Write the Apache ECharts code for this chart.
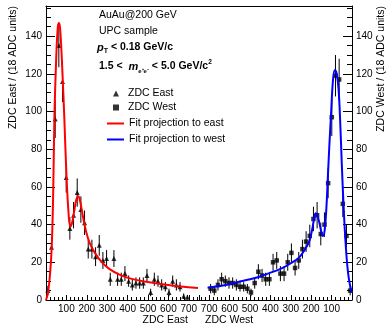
<!DOCTYPE html>
<html>
<head>
<meta charset="utf-8">
<script src="https://cdn.jsdelivr.net/npm/echarts@6/dist/echarts.min.js"></script>
<style>
  html, body { margin: 0; padding: 0; background: #fff; }
  #chart { width: 389px; height: 326px; }
</style>
</head>
<body>
<div id="chart"></div>
<script>
// bin centres, 18 ADC units per bin
const binCentres = [9, 27, 45, 63, 81, 99, 117, 135, 153, 171, 189, 207, 225, 243, 261, 279, 297, 315, 333, 351,
  369, 387, 405, 423, 441, 459, 477, 495, 513, 531, 549, 567, 585, 603, 621, 639, 657, 675, 693];

const eastCounts = [5, 28, 96, 135, 116, 65, 38, 45, 57, 48, 41, 27, 27, 23, 29, 21, 22, 11, 22, 11,
  11, 14, 10, 8, 9, 9, 9, 13, 4, 11, 10, 8, 7, 4, 10, 8, 7, 2, 1.5];
const eastErrors = [2.5, 5.5, 10, 11.5, 11, 8, 6, 7, 7.5, 7, 6.5, 5, 5, 5, 5.5, 4.5, 4.5, 3.5, 4.5, 3.5,
  3.5, 4, 3, 3, 3, 3, 3, 3.5, 2, 3.5, 3, 3, 2.5, 2, 3, 3, 2.5, 1.5, 1.2];

const westCounts = [5, 34, 51, 117, 119, 97, 62, 40, 35, 45, 43, 34, 31, 27, 21, 17, 25, 20, 14, 14,
  21, 20, 11, 11, 13, 15, 9, 4, 6, 7, 7, 8, 9, 9, 10, 11, 8, 5, 6];
const westErrors = [2.5, 6, 7, 11, 11, 10, 8, 6.5, 6, 7, 6.5, 6, 5.5, 5, 4.5, 4, 5, 4.5, 4, 4,
  4.5, 4.5, 3.5, 3.5, 3.5, 4, 3, 2, 2.5, 2.5, 2.5, 3, 3, 3, 3, 3.5, 3, 2.5, 2.5];

// fit projections
const eastFitX = [0, 10, 20, 28, 35, 41, 50, 58, 64, 70, 80, 90, 100, 110, 119, 128, 138, 148, 158, 168, 180, 195,
  215, 240, 270, 310, 360, 420, 500, 580, 660, 745];
const eastFitY = [0, 4, 14, 28, 55, 96, 128, 145, 147, 143, 122, 96, 67, 47, 39, 41, 47, 53, 55, 52, 45, 37,
  30, 25, 20.5, 16.5, 13.5, 11.2, 9.5, 8.2, 7.2, 6.4];

const westFitX = [0, 10, 20, 30, 40, 50, 58, 66, 75, 84, 93, 103, 111, 118, 126, 134, 142, 150, 160, 170, 178, 186,
  196, 210, 230, 260, 300, 350, 400, 450, 500, 560, 620, 708];
const westFitY = [4, 8, 15, 28, 47, 72, 95, 112, 120, 122, 117, 98, 82, 66, 48, 37, 34, 36, 41, 45, 46, 43,
  37, 31, 27, 22.5, 19.5, 16.5, 14.5, 12.5, 11, 9.5, 8, 6.5];

const xTicks = [100, 200, 300, 400, 500, 600, 700];
const yTicks = [0, 20, 40, 60, 80, 100, 120, 140];

const FONT = '"Liberation Sans", Arial, sans-serif';

const chart = echarts.init(document.getElementById('chart'));

const errorBars = (params, api) => {
  const x = api.value(0);
  const y = api.value(1);
  const e = api.value(2);
  const lo = api.coord([x, y - e]);
  const hi = api.coord([x, y + e]);
  return {
    type: 'line',
    shape: { x1: lo[0], y1: lo[1], x2: hi[0], y2: hi[1] },
    style: { stroke: '#000', lineWidth: 1 },
  };
};

const bottomAxis = (gridIndex, inverse) => ({
  type: 'value',
  gridIndex,
  inverse,
  min: 0,
  max: 750,
  interval: 100,
  axisLine: { show: true, onZero: false, lineStyle: { color: '#000', width: 1 } },
  axisTick: { show: true, inside: true, length: 5, lineStyle: { color: '#000' } },
  minorTick: { show: true, splitNumber: 5, length: 3, lineStyle: { color: '#000' } },
  splitLine: { show: false },
  axisLabel: {
    margin: 4,
    color: '#000',
    fontSize: 10,
    fontFamily: FONT,
    formatter: (v) => (xTicks.includes(v) ? String(v) : ''),
  },
});

const topFrame = (gridIndex) => ({
  type: 'value',
  gridIndex,
  position: 'top',
  min: 0,
  max: 750,
  axisLine: { show: true, onZero: false, lineStyle: { color: '#000', width: 1 } },
  axisTick: { show: false },
  axisLabel: { show: false },
  splitLine: { show: false },
});

const sideAxis = (gridIndex, position) => ({
  type: 'value',
  gridIndex,
  position,
  min: 0,
  max: 156,
  interval: 20,
  axisLine: { show: true, onZero: false, lineStyle: { color: '#000', width: 1 } },
  axisTick: { show: true, inside: true, length: 9, lineStyle: { color: '#000' } },
  minorTick: { show: true, splitNumber: 4, length: 5, lineStyle: { color: '#000' } },
  splitLine: { show: false },
  axisLabel: {
    margin: 4,
    color: '#000',
    fontSize: 10,
    fontFamily: FONT,
    formatter: (v) => (yTicks.includes(v) ? String(v) : ''),
  },
});

const option = {
  animation: false,
  backgroundColor: '#fff',
  grid: [
    { left: 46, top: 6, width: 153, height: 294 },
    { left: 199, top: 6, width: 153, height: 294 },
  ],
  xAxis: [bottomAxis(0, false), bottomAxis(1, true), topFrame(0), topFrame(1)],
  yAxis: [sideAxis(0, 'left'), sideAxis(1, 'right')],
  legend: [
    {
      orient: 'vertical',
      left: 108,
      top: 83,
      itemWidth: 6,
      itemHeight: 6,
      itemGap: 3,
      textStyle: { color: '#000', fontSize: 10.5, fontFamily: FONT, padding: [0, 0, 0, 4] },
      data: ['ZDC East', 'ZDC West'],
    },
    {
      orient: 'vertical',
      left: 102,
      top: 113,
      itemWidth: 17,
      itemHeight: 2,
      itemGap: 5,
      textStyle: { color: '#000', fontSize: 10.5, fontFamily: FONT },
      data: [
        { name: 'Fit projection to east', icon: 'rect' },
        { name: 'Fit projection to west', icon: 'rect' },
      ],
    },
  ],
  graphic: [
    { type: 'text', left: 99, top: 10, style: { text: 'AuAu@200 GeV', font: `10.5px ${FONT}`, fill: '#000' } },
    { type: 'text', left: 99, top: 26, style: { text: 'UPC sample', font: `10.5px ${FONT}`, fill: '#000' } },
    {
      type: 'text',
      left: 97,
      top: 42,
      style: {
        text: '{i|p}{s|T}{b| < 0.18 GeV/c}',
        fill: '#000',
        rich: {
          i: { fontSize: 11, fontWeight: 'bold', fontStyle: 'italic', fontFamily: FONT, lineHeight: 15 },
          s: { fontSize: 7, fontWeight: 'bold', fontFamily: FONT, lineHeight: 7, verticalAlign: 'bottom' },
          b: { fontSize: 10.5, fontWeight: 'bold', fontFamily: FONT, lineHeight: 15 },
        },
      },
    },
    {
      type: 'text',
      left: 99,
      top: 59,
      style: {
        text: '{b|1.5 <  }{i|m}{s|e\u207Ae\u207B}{b| < 5.0 GeV/c}{p|2}',
        fill: '#000',
        rich: {
          i: { fontSize: 11, fontWeight: 'bold', fontStyle: 'italic', fontFamily: FONT, lineHeight: 15 },
          s: { fontSize: 6, fontWeight: 'bold', fontFamily: FONT, lineHeight: 7, verticalAlign: 'bottom' },
          b: { fontSize: 10.5, fontWeight: 'bold', fontFamily: FONT, lineHeight: 15 },
          p: { fontSize: 6.5, fontWeight: 'bold', fontFamily: FONT, lineHeight: 7, verticalAlign: 'top' },
        },
      },
    },
    {
      type: 'text',
      x: 13,
      y: 6,
      rotation: Math.PI / 2,
      style: {
        text: 'ZDC East / (18 ADC units)',
        font: `10.5px ${FONT}`,
        fill: '#000',
        align: 'right',
        verticalAlign: 'middle',
      },
    },
    {
      type: 'text',
      x: 381,
      y: 6,
      rotation: Math.PI / 2,
      style: {
        text: 'ZDC West / (18 ADC units)',
        font: `10.5px ${FONT}`,
        fill: '#000',
        align: 'right',
        verticalAlign: 'middle',
      },
    },
    {
      type: 'text',
      x: 188,
      y: 320,
      style: { text: 'ZDC East', font: `10.5px ${FONT}`, fill: '#000', align: 'right', verticalAlign: 'middle' },
    },
    {
      type: 'text',
      x: 205,
      y: 320,
      style: { text: 'ZDC West', font: `10.5px ${FONT}`, fill: '#000', align: 'left', verticalAlign: 'middle' },
    },
  ],
  series: [
    {
      type: 'custom',
      xAxisIndex: 0,
      yAxisIndex: 0,
      renderItem: errorBars,
      clip: true,
      z: 2,
      data: eastCounts.map((v, i) => [binCentres[i], v, eastErrors[i]]),
    },
    {
      name: 'ZDC East',
      type: 'scatter',
      xAxisIndex: 0,
      yAxisIndex: 0,
      symbol: 'triangle',
      symbolSize: 5,
      itemStyle: { color: '#000' },
      z: 3,
      data: eastCounts.map((v, i) => [binCentres[i], v]),
    },
    {
      name: 'Fit projection to east',
      type: 'line',
      xAxisIndex: 0,
      yAxisIndex: 0,
      smooth: 0.4,
      symbol: 'none',
      showSymbol: false,
      lineStyle: { color: '#ff0000', width: 2 },
      itemStyle: { color: '#ff0000' },
      z: 4,
      data: eastFitX.map((x, i) => [x, eastFitY[i]]),
    },
    {
      type: 'custom',
      xAxisIndex: 1,
      yAxisIndex: 1,
      renderItem: errorBars,
      clip: true,
      z: 2,
      data: westCounts.map((v, i) => [binCentres[i], v, westErrors[i]]),
    },
    {
      name: 'ZDC West',
      type: 'scatter',
      xAxisIndex: 1,
      yAxisIndex: 1,
      symbol: 'rect',
      symbolSize: 4.5,
      itemStyle: { color: '#000' },
      z: 3,
      data: westCounts.map((v, i) => [binCentres[i], v]),
    },
    {
      name: 'Fit projection to west',
      type: 'line',
      xAxisIndex: 1,
      yAxisIndex: 1,
      smooth: 0.4,
      symbol: 'none',
      showSymbol: false,
      lineStyle: { color: '#0000ff', width: 2 },
      itemStyle: { color: '#0000ff' },
      z: 4,
      data: westFitX.map((x, i) => [x, westFitY[i]]),
    },
  ],
};

chart.setOption(option);
</script>
</body>
</html>
